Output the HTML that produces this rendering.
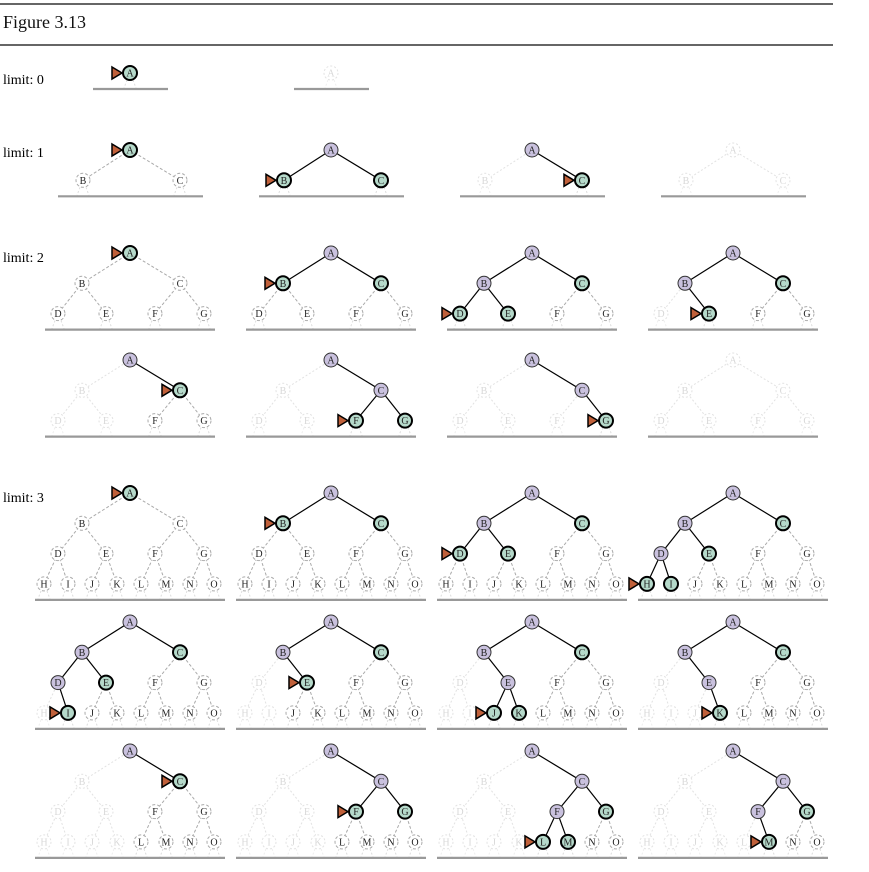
<!DOCTYPE html>
<html><head><meta charset="utf-8"><style>
body{margin:0;background:#fff;}
svg{display:block;font-family:"Liberation Serif",serif;}
</style></head><body>
<svg id="s" width="869" height="872" xmlns="http://www.w3.org/2000/svg">
<rect width="869" height="872" fill="#fff"/>
<line x1="0" y1="4" x2="833" y2="4" stroke="#666" stroke-width="2"/>
<line x1="0" y1="45" x2="833" y2="45" stroke="#666" stroke-width="2"/>
<text x="3" y="28" font-size="18" fill="#111">Figure 3.13</text>
<text x="3" y="84" font-size="14">limit: 0</text>
<text x="3" y="157" font-size="14">limit: 1</text>
<text x="3" y="262" font-size="14">limit: 2</text>
<text x="3" y="502" font-size="14">limit: 3</text>
</svg>
<script>
const S=document.getElementById('s');
const NS='http://www.w3.org/2000/svg';
function el(t,a,txt){const e=document.createElementNS(NS,t);for(const k in a)e.setAttribute(k,a[k]);if(txt!==undefined)e.textContent=txt;S.appendChild(e);return e;}
const L='ABCDEFGHIJKLMNO';
const X={A:130,B:82,C:180,D:58,E:106,F:155,G:204,H:44,I:68,J:92,K:117,L:141,M:166,N:190,O:214};
const X1={B:83,C:180};
function panel(depth,col,y0,st,arrow){
  const dx=col*201;const n=Math.pow(2,depth+1)-1;
  const pos=i=>{const c=L[i];let x=X[c];if(depth==1&&X1[c])x=X1[c];
    const lvl=Math.floor(Math.log2(i+1));return [x+dx,y0+lvl*30.3];};
  const S_=c=>st[c]||'u';
  const lines={0:[93,168],1:[58,203],2:[45,215],3:[35,225]}[depth];
  const ly=y0+depth*30.3+16;
  // edges
  for(let i=1;i<n;i++){const p=Math.floor((i-1)/2);const [x1,y1]=pos(p),[x2,y2]=pos(i);const s=S_(L[i]);
    let a={x1,y1,x2,y2};
    if(s=='e'||s=='f'){a.stroke='#000';a['stroke-width']=1.2;}
    else if(s=='u'){a.stroke='#aaa';a['stroke-dasharray']='3,2';}
    else {a.stroke='#e2e2e2';a['stroke-dasharray']='2,2';}
    el('line',a);}
  // stubs under leaves
  for(let i=(n-1)/2;i<n;i++){const [x,y]=pos(i);const s=S_(L[i]);const c=s=='x'?'#eee':'#ddd';
    el('line',{x1:x-3,y1:y+7,x2:x-6,y2:ly-1,stroke:c,'stroke-dasharray':'2,2'});
    el('line',{x1:x+3,y1:y+7,x2:x+6,y2:ly-1,stroke:c,'stroke-dasharray':'2,2'});}
  el('line',{x1:lines[0]+dx,y1:ly,x2:lines[1]+dx,y2:ly,stroke:'#999','stroke-width':2.2});
  for(let i=0;i<n;i++){const [x,y]=pos(i);const c=L[i];const s=S_(c);
    let a={cx:x,cy:y,r:7};let tc='#222';
    if(s=='e'){a.fill='#c9c1de';a.stroke='#333';a['stroke-width']=1;}
    else if(s=='f'){a.fill='#b5d9ca';a.stroke='#000';a['stroke-width']=2;}
    else if(s=='u'){a.fill='#fff';a.stroke='#aaa';a['stroke-dasharray']='3,2';}
    else {a.fill='#fff';a.stroke='#e2e2e2';a['stroke-dasharray']='2,2';tc='#d8d8d8';}
    el('circle',a);
    el('text',{x:x,y:y+3.5,'font-size':10,'text-anchor':'middle',fill:tc},c);
    if(c==arrow){el('polygon',{points:`${x-18},${y-6} ${x-8},${y} ${x-18},${y+6}`,fill:'#c0603a',stroke:'#000','stroke-width':1.5,'stroke-linejoin':'miter'});}
  }
}
function st(e,f,x){const o={};for(const c of e)o[c]='e';for(const c of f)o[c]='f';for(const c of x)o[c]='x';return o;}
// limit 0
panel(0,0,73,st('','A',''),'A');
panel(0,1,73,st('','','A'),null);
// limit 1
const y1=150;
panel(1,0,y1,st('','A',''),'A');
panel(1,1,y1,st('A','BC',''),'B');
panel(1,2,y1,st('A','C','B'),'C');
panel(1,3,y1,st('','','ABC'),null);
// limit 2
let y=253;
panel(2,0,y,st('','A',''),'A');
panel(2,1,y,st('A','BC',''),'B');
panel(2,2,y,st('AB','CDE',''),'D');
panel(2,3,y,st('AB','CE','D'),'E');
y=360;
panel(2,0,y,st('A','C','BDE'),'C');
panel(2,1,y,st('AC','FG','BDE'),'F');
panel(2,2,y,st('AC','G','BDEF'),'G');
panel(2,3,y,st('','','ABCDEFG'),null);
// limit 3
y=493;
panel(3,0,y,st('','A',''),'A');
panel(3,1,y,st('A','BC',''),'B');
panel(3,2,y,st('AB','CDE',''),'D');
panel(3,3,y,st('ABD','CEHI',''),'H');
y=622;
panel(3,0,y,st('ABD','CEI','H'),'I');
panel(3,1,y,st('AB','CE','DHI'),'E');
panel(3,2,y,st('ABE','CJK','DHI'),'J');
panel(3,3,y,st('ABE','CK','DHIJ'),'K');
y=751;
panel(3,0,y,st('A','C','BDEHIJK'),'C');
panel(3,1,y,st('AC','FG','BDEHIJK'),'F');
panel(3,2,y,st('ACF','GLM','BDEHIJK'),'L');
panel(3,3,y,st('ACF','GM','BDEHIJKL'),'M');
</script>
</body></html>
